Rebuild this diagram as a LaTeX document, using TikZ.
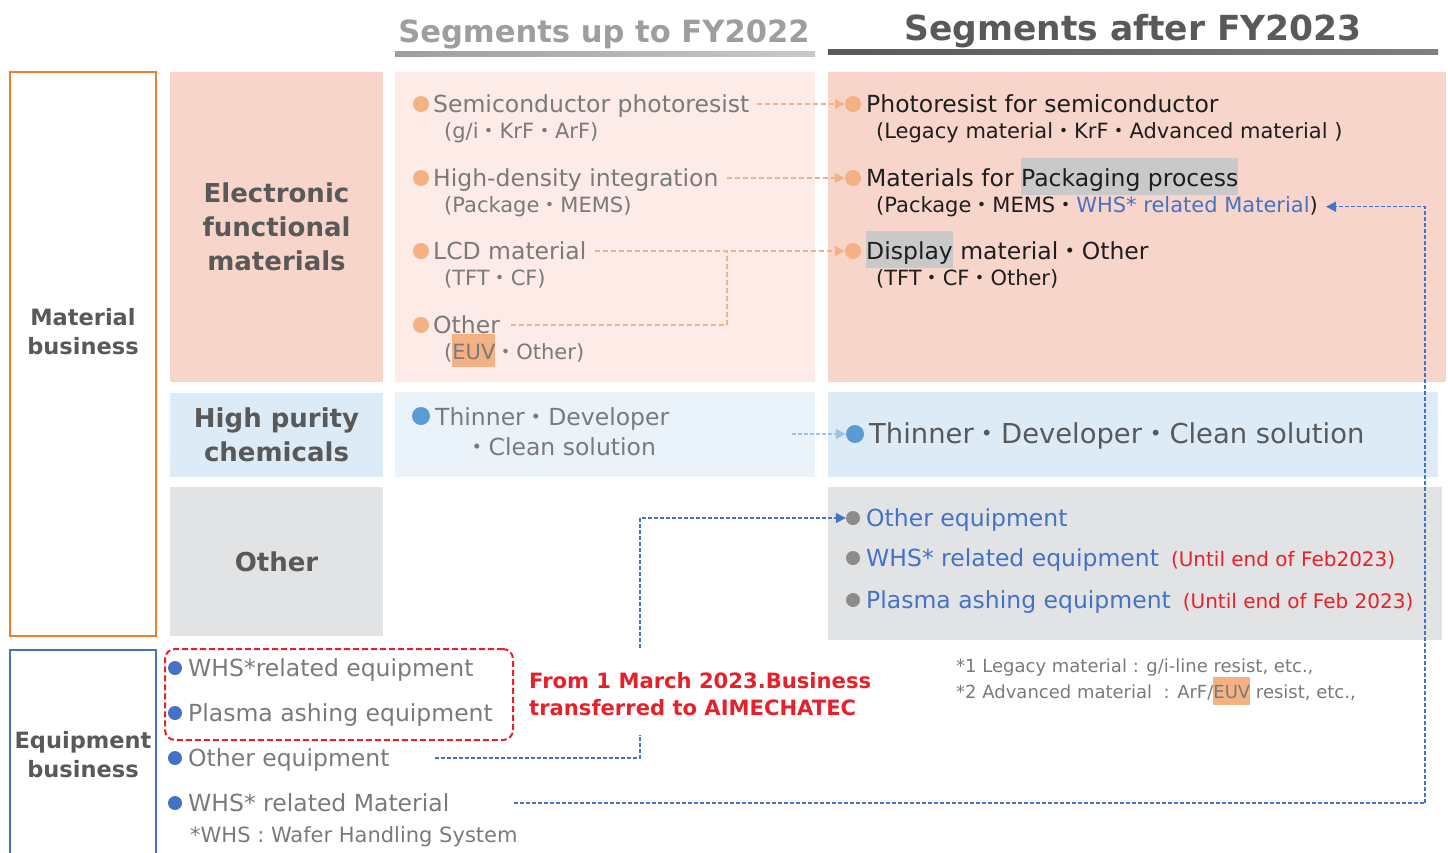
\documentclass[tikz,border=0pt]{standalone}
\usepackage{fontspec}
\setmainfont{DejaVu Sans}
\newfontfamily\cjk{Noto Sans CJK JP}
\usepackage{xcolor}
\usepackage{tikz}
\usetikzlibrary{positioning,arrows.meta,calc}
\definecolor{orgline}{HTML}{ED7D31}
\definecolor{pinkA}{HTML}{F8D5CA}
\definecolor{pinkB}{HTML}{FCEBE6}
\definecolor{blueA}{HTML}{DDEBF7}
\definecolor{blueB}{HTML}{EAF2FA}
\definecolor{grayA}{HTML}{E2E3E5}
\definecolor{bulO}{HTML}{F4B183}
\definecolor{bulB}{HTML}{5B9BD5}
\definecolor{lineC}{HTML}{9DC3E6}
\definecolor{eqB}{HTML}{4472C4}
\definecolor{bulG}{HTML}{8C8C8C}
\definecolor{txtG}{HTML}{7A7A7A}
\definecolor{txtD}{HTML}{595959}
\definecolor{txtK}{HTML}{1E1E1E}
\definecolor{redT}{HTML}{E8202A}
\definecolor{hiG}{HTML}{C9C9C9}
\definecolor{hdrL}{HTML}{9E9E9E}
\newcommand{\dt}{{\cjk ・}}
\newcommand{\hlbox}[2]{{\setlength{\fboxsep}{0pt}\colorbox{#1}{\rule[-0.38em]{0pt}{1.58em}#2}}}
\tikzset{
  hdr/.style={inner sep=0pt, font=\bfseries\fontsize{30.6}{36}\selectfont},
  lbl/.style={align=center, inner sep=0pt, text=txtD, font=\bfseries\fontsize{22.5}{29}\selectfont},
  seg/.style={fill=#1, minimum width=213pt, inner sep=0pt, align=center, text=txtD,
    font=\bfseries\fontsize{26}{34}\selectfont},
  bul/.style={circle, fill=#1, inner sep=0pt, minimum size=16pt},
  sbul/.style={circle, fill=#1, inner sep=0pt, minimum size=14pt},
  item/.style={anchor=base west, inner sep=0pt, font=\fontsize{23.5}{28}\selectfont},
  sub/.style={anchor=base west, inner sep=0pt, font=\fontsize{21}{25}\selectfont},
  note/.style={anchor=base west, inner sep=0pt, text=txtG, font=\fontsize{18}{22}\selectfont},
  oline/.style={draw=bulO, line width=1.5pt, dash pattern=on 5pt off 3pt},
  oarr/.style={oline, -{Triangle[length=10pt,width=10pt]}},
  bline/.style={draw=eqB, line width=1.5pt, dash pattern=on 4pt off 2pt},
  barr/.style={bline, -{Triangle[length=10pt,width=10pt]}},
  carr/.style={draw=lineC, line width=1.5pt, dash pattern=on 4pt off 2pt, -{Triangle[length=10pt,width=10pt]}}
}
\begin{document}
\begin{tikzpicture}[x=1pt,y=-1pt]
\useasboundingbox (0,0) rectangle (1448,852);
% headers
\node[hdr, text=hdrL] (hleft) at (604,34) {Segments up to FY2022};
\node[hdr, text=txtD, font=\bfseries\fontsize{34.5}{40}\selectfont] (hright) at (1133,31) {Segments after FY2023};
\shade[left color=hdrL, right color=hiG] (395,51) rectangle (815,56);
\shade[left color=txtD, right color=gray] (828,49) rectangle (1438,54);

% business frames
\node[draw=orgline, line width=2.5pt, minimum width=146pt, minimum height=564pt, inner sep=0pt] (matbox) at (83,354) {};
\node[lbl] (matlbl) at (83,332) {Material\\business};
\node[draw=eqB, line width=2.5pt, minimum width=146pt, minimum height=230pt, inner sep=0pt] (eqbox) at (83,765) {};
\node[lbl] (eqlbl) at (83,755) {Equipment\\business};

% segments
\node[seg=pinkA, minimum height=310pt] (efm) at (276.5,227) {\raisebox{2pt}{}Electronic\\functional\\materials};
\node[seg=blueA, minimum height=84pt] (hpc) at (276.5,435) {High purity\\chemicals};
\node[seg=grayA, minimum height=149pt] (oth) at (276.5,561.5) {Other};

\fill[pinkB] (395,72) rectangle (815,382);
\fill[blueB] (395,392) rectangle (815,477);
\fill[pinkA] (828,72) rectangle (1446,382);
\fill[blueA] (828,392) rectangle (1438,477);
\fill[grayA] (828,487) rectangle (1442,640);

% up to FY2022
\foreach \i/\y/\t/\s in {1/104/{Semiconductor photoresist}/{(g/i\dt KrF\dt ArF)},
    2/178/{High-density integration}/{(Package\dt MEMS)},
    3/251/{LCD material}/{(TFT\dt CF)},
    4/325/{Other}/{(\hlbox{bulO}{EUV}\dt Other)}}{
  \node[bul=bulO] (mb\i) at (421,\y) {};
  \node[item, text=txtG] (m\i) at (433,\y+8.5) {\t};
  \node[sub, text=txtG] (ms\i) at (444,\y+34.5) {\s};
}

% after FY2023
\foreach \i/\y/\t/\s in {1/104/{Photoresist for semiconductor}/{(Legacy material\dt KrF\dt Advanced material )},
    2/178/{Materials for \hlbox{hiG}{Packaging process}}/{(Package\dt MEMS\dt \textcolor{eqB}{WHS* related Material})},
    3/251/{\hlbox{hiG}{Display} material\dt Other}/{(TFT\dt CF\dt Other)}}{
  \node[bul=bulO] (rb\i) at (853,\y) {};
  \node[item, text=txtK] (r\i) at (866,\y+8.5) {\t};
  \node[sub, text=txtK] (rs\i) at (876,\y+34.5) {\s};
}

\foreach \i in {1,2,3}
\draw[oarr, shorten <=8pt] (m\i.east |- mb\i) -- (rb\i.west);
\coordinate (jn) at (727,0);
\draw[oline, shorten <=11pt] (m4.east |- mb4) -| (jn |- rb3);

% high purity chemicals
\node[bul=bulB, minimum size=18pt] (cb1) at (421,416) {};
\node[item, text=txtG] (c1) at (435,425) {Thinner\dt Developer};
\node[item, text=txtG] (c2) at (465,455) {\dt Clean solution};
\node[bul=bulB, minimum size=18pt] (rcb) at (855,434) {};
\node[item, text=txtD, font=\fontsize{27.4}{32}\selectfont] (rc) at (869,443) {Thinner\dt Developer\dt Clean solution};
\coordinate (cs) at (792,434);
\draw[carr] (cs) -- (rcb.west);

% other
\foreach \i/\y/\t in {1/518/{Other equipment},
    2/558/{WHS* related equipment\hspace{12pt}\textcolor{redT}{\fontsize{20}{24}\selectfont(Until end of Feb2023)}},
    3/600/{Plasma ashing equipment\hspace{12pt}\textcolor{redT}{\fontsize{20}{24}\selectfont(Until end of Feb 2023)}}}{
  \node[sbul=bulG] (ob\i) at (853,\y) {};
  \node[item, text=eqB] (o\i) at (866,\y+8.5) {\t};
}

% equipment business
\foreach \i/\y/\t in {1/668/{WHS*related equipment},2/713/{Plasma ashing equipment},
    3/758/{Other equipment},4/803/{WHS* related Material}}{
  \node[sbul=eqB] (eb\i) at (175,\y) {};
  \node[item, text=txtG] (e\i) at (188,\y+8.5) {\t};
}
\node[sub, text=txtG] (whs) at (190,842) {*WHS : Wafer Handling System};
\node[draw=redT, line width=2pt, dash pattern=on 6pt off 3pt, rounded corners=10pt,
  minimum width=348pt, minimum height=91pt] (trbox) at (339,694.5) {};
\node[anchor=west, inner sep=0pt, align=left, text=redT, font=\bfseries\fontsize{21.1}{27}\selectfont] (trnote) at (529,694.5)
  {From 1 March 2023.Business\\transferred to AIMECHATEC};

% links
\coordinate (gapLo) at (640,735);
\coordinate (gapHi) at (640,648);
\draw[bline, shorten <=45pt] (e3.east |- eb3) -| (gapLo);
\draw[barr] (gapHi) |- (ob1.west);
\coordinate (rt) at (1425,0);
\draw[barr, shorten <=64pt, shorten >=8pt] (e4.east |- eb4) -| (rt |- rs2) -- (rs2.east);

% notes
\node[note] (n1) at (956,672.5) {*1 Legacy material : g/i-line resist, etc.,};
\node[note] (n2) at (956,698.5) {*2 Advanced material\ \ : ArF/\hlbox{bulO}{EUV} resist, etc.,};
\end{tikzpicture}
\end{document}
